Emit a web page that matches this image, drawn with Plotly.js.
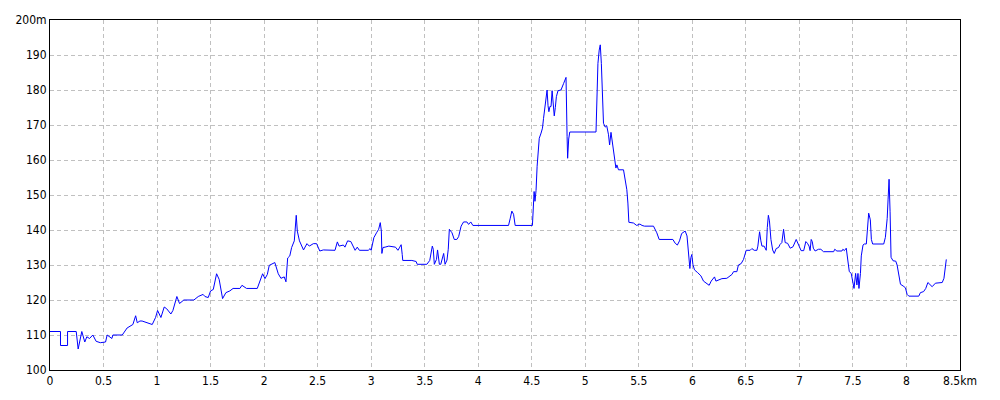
<!DOCTYPE html>
<html><head><meta charset="utf-8">
<script src="https://cdn.plot.ly/plotly-3.0.1.min.js"></script>
<style>html,body{margin:0;padding:0;background:#fff}#chart{width:1000px;height:400px}</style>
</head><body><div id="chart"></div>
<script>
const distanceKm = [0,0.098,0.098,0.164,0.164,0.245,0.263,0.297,0.325,0.344,0.369,0.40,0.431,0.47,0.519,0.534,0.578,0.587,0.675,0.72,0.774,0.80,0.815,0.84,0.86,0.90,0.955,0.986,1.005,1.036,1.067,1.09,1.129,1.148,1.185,1.21,1.25,1.344,1.385,1.43,1.447,1.478,1.5,1.525,1.556,1.58,1.612,1.643,1.68,1.71,1.774,1.793,1.836,1.936,1.986,2.008,2.03,2.048,2.1,2.132,2.157,2.188,2.204,2.22,2.24,2.257,2.282,2.3,2.31,2.33,2.368,2.4,2.422,2.46,2.49,2.52,2.553,2.662,2.684,2.7,2.74,2.755,2.78,2.81,2.833,2.85,2.87,2.89,2.973,2.99,3.0,3.025,3.05,3.07,3.085,3.095,3.10,3.11,3.13,3.165,3.227,3.25,3.267,3.28,3.29,3.295,3.38,3.42,3.43,3.52,3.547,3.571,3.58,3.59,3.61,3.62,3.637,3.65,3.677,3.69,3.708,3.72,3.73,3.755,3.776,3.8,3.817,3.84,3.863,3.894,3.91,3.93,3.95,4.283,4.298,4.314,4.33,4.345,4.506,4.512,4.522,4.53,4.54,4.55,4.56,4.57,4.587,4.60,4.61,4.62,4.634,4.643,4.652,4.66,4.67,4.68,4.69,4.70,4.71,4.72,4.73,4.745,4.773,4.798,4.813,4.82,4.83,4.835,4.845,4.855,5.10,5.109,5.118,5.13,5.14,5.15,5.16,5.17,5.186,5.2,5.217,5.227,5.24,5.25,5.264,5.273,5.286,5.295,5.31,5.357,5.373,5.388,5.398,5.407,5.45,5.48,5.51,5.53,5.553,5.637,5.668,5.69,5.818,5.84,5.86,5.88,5.90,5.933,5.95,5.96,5.97,5.977,5.986,5.995,6.005,6.02,6.05,6.08,6.104,6.135,6.157,6.176,6.207,6.22,6.25,6.276,6.322,6.37,6.385,6.416,6.43,6.456,6.478,6.49,6.503,6.54,6.556,6.578,6.603,6.612,6.628,6.64,6.65,6.67,6.69,6.70,6.71,6.72,6.734,6.75,6.765,6.783,6.805,6.82,6.836,6.852,6.867,6.89,6.914,6.94,6.97,7.0,7.016,7.04,7.06,7.075,7.09,7.10,7.11,7.12,7.13,7.147,7.178,7.2,7.225,7.32,7.33,7.35,7.397,7.406,7.42,7.4375,7.444,7.453,7.466,7.484,7.497,7.51,7.525,7.537,7.547,7.556,7.57,7.578,7.594,7.606,7.625,7.6375,7.647,7.6625,7.672,7.684,7.7875,7.803,7.82,7.828,7.8375,7.847,7.856,7.875,7.9,7.9125,7.928,7.944,7.969,7.99,8.006,8.022,8.115,8.13,8.16,8.18,8.2,8.206,8.22,8.24,8.27,8.303,8.334,8.35,8.356,8.3625,8.372];
const elevationM = [111,111,107,107,111,111,106,111,108,109.5,109,110,108.2,107.8,108,110,109,110,110,112,113,115.5,113.5,114,114,113.5,113,115,117,115,118,117.5,116,117,121,119,120,120,121,121.6,121,120.7,122.6,123,127.5,125.9,120.4,122.1,122.6,123.3,123.3,124.2,123.3,123.3,127.5,126.1,127.3,129.9,130.7,127.5,126.2,126.6,125.2,132,132.6,135,136.9,144.2,139.7,136.9,134.3,136.1,135.4,136.1,136.1,134,134.3,134.2,136.6,135.4,135.7,135.1,136.9,136.7,135.4,134.2,135.1,134.2,134.2,134.7,134.2,137.8,139.2,140.2,142.1,139.7,133.3,135,135.1,135.4,135.1,134.2,135.1,135.8,133,131.3,131.3,131,130.2,130.2,131.3,135.4,134.5,130.2,131.6,134.3,130.2,130.2,133.3,130.2,131.4,134.5,140.2,139.2,137.3,137.3,138.1,141.1,142.3,142.3,141.6,142.3,141.3,141.3,143.2,145.4,144.5,141.3,141.3,146.3,151,148.2,151.3,158.2,162.9,166.2,167.7,169.1,171.9,174.8,178.1,180,175.5,173.8,175.3,175.3,179.8,175.3,172.6,175,178.1,179.8,180,181.9,183.3,183.6,166.7,160.5,166,168,168,179.5,187.6,191.4,192.9,187.6,176.2,170.5,169.4,169.8,167.2,164.3,167.9,165.8,163.4,160.5,157.7,158.6,157.2,157.2,154.4,151.5,147.7,142.2,142,141.3,141.7,141.3,141.1,141.1,139.2,137.3,137.3,136.2,135.7,136.9,139,139.7,138.3,135,131.1,129,132.1,133,130.2,128.6,127.8,126.9,125.4,124.8,124.2,125.4,126.6,125.4,125.7,126.1,126.2,127.3,128.1,128.1,130,130.4,131.6,133,134.2,134.2,134.7,134.2,134.2,135.4,139.5,136.9,135.4,135.4,134.2,140.7,144.2,142.6,137.3,134.3,133.3,134.7,135,135.9,136.4,140.2,136.4,136.2,134.8,135.2,137.3,135.2,134.1,134.1,136.7,136.2,135.4,134.1,137.3,136.7,134.8,134,134.5,134.5,133.8,133.8,134.5,134,134,134.5,134.1,134.8,133.5,131.4,128.1,127.6,125.2,123.3,127.6,124.3,127.6,123.3,127.6,132.6,135.7,136,136,140,144.8,142.9,137.3,136,136,137.9,143.3,148.6,154.5,145.2,132.2,131.2,131.1,130,126.7,124.5,124,123.5,121.6,121.1,121.1,122.1,122.4,123.3,125,124.8,124.3,123.8,124.8,124.8,125,126.2,127.8,130,131.6];
const xTickVals = [0,0.5,1,1.5,2,2.5,3,3.5,4,4.5,5,5.5,6,6.5,7,7.5,8,8.5];
const xTickText = ['0','0.5','1','1.5','2','2.5','3','3.5','4','4.5','5','5.5','6','6.5','7','7.5','8','8.5km'];
const yTickVals = [100,110,120,130,140,150,160,170,180,190,200];
const yTickText = ['100','110','120','130','140','150','160','170','180','190','200m'];

const tickFont = {family:'"Liberation Sans Narrow","DejaVu Sans Condensed","Liberation Sans",sans-serif', size:12, color:'#000'};
const trace = {x:distanceKm, y:elevationM, type:'scatter', mode:'lines', line:{color:'#0000ff', width:1}, hoverinfo:'x+y'};
const layout = {
  width:1000, height:400,
  margin:{l:50, r:40, t:20, b:30},
  paper_bgcolor:'#fff', plot_bgcolor:'#fff',
  showlegend:false,
  xaxis:{range:[0,8.5], tickvals:xTickVals, ticktext:xTickText, tickfont:tickFont,
    showgrid:true, gridcolor:'#c0c0c0', griddash:'4px,3px', gridwidth:1, zeroline:false,
    showline:true, linecolor:'#000', linewidth:1, mirror:true, ticks:'', ticklen:0, tickangle:0},
  yaxis:{range:[100,200], tickvals:yTickVals, ticktext:yTickText, tickfont:tickFont,
    showgrid:true, gridcolor:'#c0c0c0', griddash:'4px,3px', gridwidth:1, zeroline:false,
    showline:true, linecolor:'#000', linewidth:1, mirror:true, ticks:'', ticklen:0}
};
Plotly.newPlot('chart', [trace], layout, {staticPlot:true, displayModeBar:false});
</script></body></html>
